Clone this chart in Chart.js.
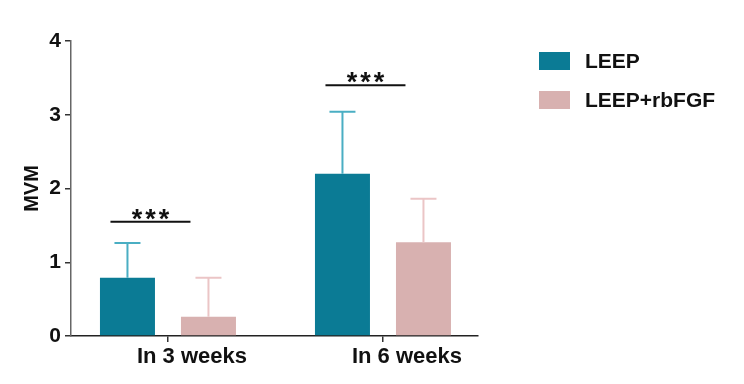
<!DOCTYPE html>
<html><head><meta charset="utf-8">
<script src="https://cdn.jsdelivr.net/npm/chart.js@4/dist/chart.umd.min.js"></script>
<style>html,body{margin:0;padding:0;background:#fff}#wrap{width:744px;height:384px}</style>
</head><body><div id="wrap"><canvas id="c" width="744" height="384"></canvas></div>
<script>
const categories = ['In 3 weeks', 'In 6 weeks'];
const seriesNames = ['LEEP', 'LEEP+rbFGF'];
const leepMeans = [0.79, 2.20];
const leepUpper = [1.26, 3.04];
const rbfgfMeans = [0.26, 1.27];
const rbfgfUpper = [0.79, 1.86];
const sigLabels = ['***', '***'];
const sigLevels = [1.55, 3.40];
const yTicks = [0, 1, 2, 3, 4];

const barColors = ['#0b7b95', '#d8b1b0'];
const errColors = ['#4aaec3', '#ebc5c6'];
const upper = [leepUpper, rbfgfUpper];
const FONT = 'Liberation Sans, Arial, sans-serif';

const errorBars = {
  id: 'errorBars',
  afterDatasetsDraw(chart) {
    const ctx = chart.ctx, y = chart.scales.y;
    chart.data.datasets.forEach((ds, i) => {
      const meta = chart.getDatasetMeta(i);
      meta.data.forEach((bar, j) => {
        const top = y.getPixelForValue(upper[i][j]);
        ctx.save();
        ctx.strokeStyle = errColors[i];
        ctx.lineWidth = 2;
        ctx.beginPath();
        ctx.moveTo(bar.x, bar.y);
        ctx.lineTo(bar.x, top);
        ctx.moveTo(bar.x - 13, top);
        ctx.lineTo(bar.x + 13, top);
        ctx.stroke();
        ctx.restore();
      });
    });
  }
};

const sigBrackets = {
  id: 'sigBrackets',
  afterDatasetsDraw(chart) {
    const ctx = chart.ctx, y = chart.scales.y;
    const m0 = chart.getDatasetMeta(0), m1 = chart.getDatasetMeta(1);
    sigLevels.forEach((lvl, j) => {
      const x1 = m0.data[j].x - 17, x2 = m1.data[j].x - 18;
      const py = y.getPixelForValue(lvl);
      ctx.save();
      ctx.strokeStyle = '#111';
      ctx.lineWidth = 2;
      ctx.beginPath();
      ctx.moveTo(x1, py); ctx.lineTo(x2, py);
      ctx.stroke();
      ctx.fillStyle = '#111';
      ctx.font = 'bold 27px ' + FONT;
      ctx.letterSpacing = '3px';
      ctx.textAlign = 'center';
      ctx.textBaseline = 'alphabetic';
      ctx.fillText(sigLabels[j], (x1 + x2) / 2 + 1.5, py + 6);
      ctx.restore();
    });
  }
};

const customLegend = {
  id: 'customLegend',
  afterDraw(chart) {
    const ctx = chart.ctx;
    seriesNames.forEach((name, i) => {
      const by = 52 + i * 39;
      ctx.save();
      ctx.fillStyle = barColors[i];
      ctx.fillRect(539, by, 31, 18);
      ctx.fillStyle = '#111';
      ctx.font = 'bold 21px ' + FONT;
      ctx.textAlign = 'left';
      ctx.textBaseline = 'middle';
      ctx.fillText(name, 585, by + 10);
      ctx.restore();
    });
  }
};

new Chart(document.getElementById('c'), {
  type: 'bar',
  data: {
    datasets: [
      { label: seriesNames[0], data: leepMeans.map((v, i) => ({ x: i, y: v })), backgroundColor: barColors[0] },
      { label: seriesNames[1], data: rbfgfMeans.map((v, i) => ({ x: i, y: v })), backgroundColor: barColors[1] }
    ]
  },
  options: {
    responsive: false,
    animation: false,
    categoryPercentage: 0.7535,
    barPercentage: 0.679,
    layout: { padding: { top: 41, right: 266, left: 0, bottom: 0 } },
    plugins: { legend: { display: false }, tooltip: { enabled: false } },
    scales: {
      x: {
        type: 'linear',
        min: -0.451,
        max: 1.442,
        offset: false,
        afterBuildTicks: (s) => { s.ticks = categories.map((c, i) => ({ value: i })); },
        afterFit: (s) => { s.height = 48; },
        grid: { display: true, drawOnChartArea: false, offset: false, tickLength: 6, color: '#333', lineWidth: 1.5 },
        border: { color: '#222', width: 1.5 },
        ticks: {
          autoSkip: false, maxRotation: 0, padding: 2, labelOffset: 24,
          color: '#111', font: { family: FONT, size: 22, weight: 'bold' },
          callback: (v) => categories[Math.round(v)]
        }
      },
      y: {
        min: 0, max: 4,
        afterBuildTicks: (s) => { s.ticks = yTicks.map(v => ({ value: v })); },
        afterFit: (s) => { s.width = 71; },
        grid: { display: true, drawOnChartArea: false, tickLength: 6, color: '#333', lineWidth: 1.5 },
        border: { color: '#666', width: 1.5 },
        ticks: { padding: 4, color: '#111', font: { family: FONT, size: 21, weight: 'bold' } },
        title: { display: true, text: 'MVM', color: '#111', padding: { top: 20, bottom: 0 }, font: { family: FONT, size: 20, weight: 'bold' } }
      }
    }
  },
  plugins: [errorBars, sigBrackets, customLegend]
});
</script></body></html>
